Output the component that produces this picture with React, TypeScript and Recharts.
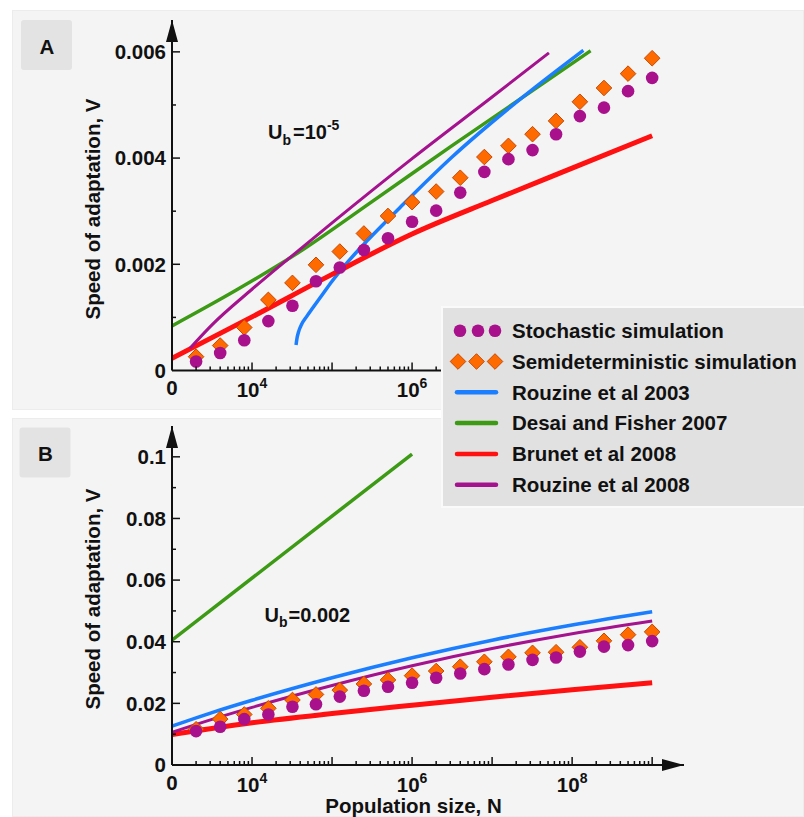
import React from 'react';
import { ComposedChart, Line, Scatter, XAxis, YAxis } from 'recharts';

const FONT = '"Liberation Sans", Arial, Helvetica, sans-serif';

// Population sizes at which both simulations were run
const simN = [2000, 4000, 8000, 16000, 32000, 63000, 125000, 250000, 500000, 1e6, 2e6, 4e6, 8e6, 1.6e7, 3.2e7, 6.3e7, 1.25e8, 2.5e8, 5e8, 1e9];

// Panel A, Ub = 1e-5
const stochA = [0.00017, 0.00033, 0.00057, 0.00093, 0.00122, 0.00168, 0.00194, 0.00227, 0.00249, 0.0028, 0.00301, 0.00335, 0.00374, 0.00398, 0.00415, 0.00445, 0.00479, 0.00495, 0.00526, 0.00551];
const semiA = [0.00026, 0.00047, 0.00081, 0.00133, 0.00165, 0.00199, 0.00224, 0.00258, 0.00291, 0.00317, 0.00337, 0.00363, 0.00402, 0.00423, 0.00445, 0.0047, 0.00506, 0.00532, 0.00559, 0.00588];
const rouzine03A_N = [35480, 36310, 38020, 41690, 47860, 57540, 75860, 100000, 158500, 281800, 707900, 3.16e6, 2.0e7, 1.38e8];
const rouzine03A_V = [0.00048, 0.00059, 0.00072, 0.00087, 0.00101, 0.00118, 0.00143, 0.00168, 0.00205, 0.00246, 0.00307, 0.00402, 0.00505, 0.00603];
const desaiA_N = [1000, 6300, 38000, 316000, 3.0e6, 1.7e8];
const desaiA_V = [0.00084, 0.00151, 0.00222, 0.00318, 0.00421, 0.00602];
const brunetA_N = [1000, 10000, 100000, 1e6, 1e7, 1e8, 1e9];
const brunetA_V = [0.00023, 0.00101, 0.00181, 0.00257, 0.0032, 0.00381, 0.00442];
const rouzine08A_N = [1680, 3160, 10000, 31600, 100000, 1e6, 1e7, 5.13e7];
const rouzine08A_V = [0.00042, 0.00086, 0.00153, 0.00216, 0.00278, 0.00399, 0.00515, 0.00598];

// Panel B, Ub = 0.002
const stochB = [0.011, 0.0124, 0.0149, 0.0164, 0.0189, 0.0197, 0.0222, 0.0241, 0.0254, 0.0267, 0.0283, 0.0297, 0.0311, 0.0326, 0.0341, 0.0349, 0.0368, 0.0384, 0.0389, 0.0402];
const semiB = [0.0116, 0.0149, 0.0164, 0.0184, 0.0211, 0.0229, 0.0243, 0.0263, 0.0276, 0.029, 0.0305, 0.0319, 0.0335, 0.0351, 0.0364, 0.0366, 0.0382, 0.0403, 0.0423, 0.0432];
const curveB_N = [1000, 3160, 10000, 100000, 1e6, 1e7, 1e8, 1e9];
const rouzine03B_V = [0.0126, 0.017, 0.021, 0.0283, 0.0348, 0.0405, 0.0454, 0.0497];
const rouzine08B_V = [0.0106, 0.0148, 0.0187, 0.0258, 0.0322, 0.0378, 0.0426, 0.0467];
const desaiB_N = [1000, 1e6];
const desaiB_V = [0.0405, 0.1009];
const brunetB_N = [1000, 10000, 1e5, 1e6, 1e7, 1e8, 1e9];
const brunetB_V = [0.0099, 0.0137, 0.0167, 0.0194, 0.022, 0.0244, 0.0267];

// Axis tick values
const xMajorExps = [3, 4, 5, 6, 7, 8, 9];
const xLabelsA = [4, 6];
const xLabelsB = [4, 6, 8];
const yTicksA = [0, 0.001, 0.002, 0.003, 0.004, 0.005, 0.006];
const yLabelsA = [0, 0.002, 0.004, 0.006];
const yTicksB = [0, 0.01, 0.02, 0.03, 0.04, 0.05, 0.06, 0.07, 0.08, 0.09, 0.1];
const yLabelsB = [0, 0.02, 0.04, 0.06, 0.08, 0.1];

const legendItems = [
  { name: 'Stochastic simulation', kind: 'dot' },
  { name: 'Semideterministic simulation', kind: 'diamond' },
  { name: 'Rouzine et al 2003', kind: 'blue' },
  { name: 'Desai and Fisher 2007', kind: 'green' },
  { name: 'Brunet et al 2008', kind: 'red' },
  { name: 'Rouzine et al 2008', kind: 'purple' },
];

const C = {
  dot: '#a8108c',
  diamond: '#ff6a00',
  diamondEdge: '#c84800',
  blue: '#1a7eff',
  green: '#3d9a14',
  red: '#ff1111',
  purple: '#a4128e',
};
const W = { blue: 3.5, green: 3.5, red: 5, purple: 3 };

const pts = (ns: number[], vs: number[]) => ns.map((n, i) => ({ n, v: vs[i] }));

// log-spaced tick positions: each decade plus 2..9 x 10^d
const xTicks: number[] = [];
for (let e = 3; e <= 9; e++) {
  xTicks.push(Math.pow(10, e));
  if (e < 9) for (let m = 2; m <= 9; m++) xTicks.push(m * Math.pow(10, e));
}

const FS = 20.5;

function makeXTick(labels: number[]) {
  return (props: any) => {
    const { x, y, payload } = props;
    const v = payload.value as number;
    const lg = Math.log10(v);
    const e = Math.round(lg);
    const major = Math.abs(lg - e) < 1e-9 && xMajorExps.includes(e);
    if (v === 1000) {
      return (
        <text x={x} y={y + 24.5} textAnchor="middle" fontFamily={FONT} fontWeight="bold" fontSize={FS} fill="#111">0</text>
      );
    }
    return (
      <g>
        <line x1={x} x2={x} y1={y} y2={y - (major ? 8 : 4)} stroke="#111" strokeWidth={1.5} />
        {major && labels.includes(e) && (
          <text x={x} y={y + 26.5} textAnchor="middle" fontFamily={FONT} fontWeight="bold" fontSize={FS} fill="#111">
            <tspan>10</tspan>
            <tspan fontSize={14} dy={-9}>{e}</tspan>
          </text>
        )}
      </g>
    );
  };
}

function makeYTick(labels: number[]) {
  return (props: any) => {
    const { x, y, payload } = props;
    const v = payload.value as number;
    const labeled = labels.includes(v);
    return (
      <g>
        {v !== 0 && <line x1={x} x2={x + (labeled ? 8 : 4)} y1={y} y2={y} stroke="#111" strokeWidth={1.5} />}
        {labeled && (
          <text x={x - 6} y={y} dy="0.36em" textAnchor="end" fontFamily={FONT} fontWeight="bold" fontSize={FS} fill="#111">
            {String(v)}
          </text>
        )}
      </g>
    );
  };
}

const DotShape = (p: any) => <circle cx={p.cx} cy={p.cy} r={6.3} fill={C.dot} />;
const DiamondShape = (p: any) => {
  const h = 7.8;
  return (
    <polygon
      points={`${p.cx},${p.cy - h} ${p.cx + h},${p.cy} ${p.cx},${p.cy + h} ${p.cx - h},${p.cy}`}
      fill={C.diamond}
      stroke={C.diamondEdge}
      strokeWidth={1}
    />
  );
};

const axisLineX = { stroke: '#111', strokeWidth: 2, markerEnd: 'url(#axisArrow)' };
const axisLineY = { stroke: '#111', strokeWidth: 2, markerStart: 'url(#axisArrow)' };

interface PanelProps {
  yMax: number;
  yTicks: number[];
  yLabels: number[];
  xLabels: number[];
  width: number;
  height: number;
  margin: { top: number; right: number; bottom: number; left: number };
  stoch: number[];
  semi: number[];
  blue: { n: number; v: number }[];
  green: { n: number; v: number }[];
  red: { n: number; v: number }[];
  purple: { n: number; v: number }[];
}

function Panel(p: PanelProps) {
  return (
    <ComposedChart width={p.width} height={p.height} margin={p.margin}>
      <XAxis
        dataKey="n"
        type="number"
        scale="log"
        domain={[1000, 2.5e9]}
        allowDataOverflow
        ticks={xTicks}
        interval={0}
        tick={makeXTick(p.xLabels)}
        tickLine={false}
        tickSize={0}
        tickMargin={0}
        height={30}
        axisLine={axisLineX}
      />
      <YAxis
        dataKey="v"
        type="number"
        domain={[0, p.yMax]}
        allowDataOverflow
        ticks={p.yTicks}
        interval={0}
        tick={makeYTick(p.yLabels)}
        tickLine={false}
        tickSize={0}
        tickMargin={0}
        width={172}
        axisLine={axisLineY}
      />
      <Line data={p.green} dataKey="v" type="monotone" stroke={C.green} strokeWidth={W.green} dot={false} activeDot={false} isAnimationActive={false} />
      <Line data={p.blue} dataKey="v" type="monotone" stroke={C.blue} strokeWidth={W.blue} dot={false} activeDot={false} isAnimationActive={false} />
      <Line data={p.red} dataKey="v" type="monotone" stroke={C.red} strokeWidth={W.red} dot={false} activeDot={false} isAnimationActive={false} />
      <Line data={p.purple} dataKey="v" type="monotone" stroke={C.purple} strokeWidth={W.purple} dot={false} activeDot={false} isAnimationActive={false} />
      <Scatter data={pts(simN, p.semi)} dataKey="v" shape={DiamondShape} isAnimationActive={false} />
      <Scatter data={pts(simN, p.stoch)} dataKey="v" shape={DotShape} isAnimationActive={false} />
    </ComposedChart>
  );
}

const textStyle = { fontFamily: FONT, fontWeight: 'bold' as const, fill: '#111' };

function LegendIcon({ kind, cy }: { kind: string; cy: number }) {
  if (kind === 'dot') {
    return (
      <g>
        {[19, 37, 54].map((cx) => (
          <circle key={cx} cx={cx} cy={cy} r={6.3} fill={C.dot} />
        ))}
      </g>
    );
  }
  if (kind === 'diamond') {
    return (
      <g>
        {[17, 35.5, 54].map((cx) => (
          <DiamondShape key={cx} cx={cx} cy={cy} />
        ))}
      </g>
    );
  }
  const color = (C as any)[kind];
  return <line x1={16} x2={55} y1={cy} y2={cy} stroke={color} strokeWidth={4.5} strokeLinecap="round" />;
}

export default function App() {
  return (
    <div style={{ position: 'absolute', left: 0, top: 0, width: 804, height: 817, background: '#ffffff', overflow: 'hidden' }}>
      <svg width={0} height={0} style={{ position: 'absolute' }}>
        <defs>
          <marker
            id="axisArrow"
            markerUnits="userSpaceOnUse"
            markerWidth={22}
            markerHeight={12}
            viewBox="0 0 22 12"
            refX={22}
            refY={6}
            orient="auto-start-reverse"
          >
            <path d="M0,0 L22,6 L0,12 Z" fill="#111" />
          </marker>
        </defs>
      </svg>

      <div style={{ position: 'absolute', left: 12, top: 10, width: 792, height: 400, background: '#f4f4f4', boxShadow: 'inset 0 0 0 1px #ececec' }} />
      <div style={{ position: 'absolute', left: 12, top: 418, width: 792, height: 399, background: '#f4f4f4', boxShadow: 'inset 0 0 0 1px #ececec' }} />

      <div style={{ position: 'absolute', left: 0, top: 0 }}>
        <Panel
          width={804}
          height={410}
          margin={{ top: 20, right: 120, bottom: 9.5, left: 0 }}
          yMax={0.0066}
          yTicks={yTicksA}
          yLabels={yLabelsA}
          xLabels={xLabelsA}
          stoch={stochA}
          semi={semiA}
          blue={pts(rouzine03A_N, rouzine03A_V)}
          green={pts(desaiA_N, desaiA_V)}
          red={pts(brunetA_N, brunetA_V)}
          purple={pts(rouzine08A_N, rouzine08A_V)}
        />
      </div>
      <div style={{ position: 'absolute', left: 0, top: 410 }}>
        <Panel
          width={804}
          height={407}
          margin={{ top: 16, right: 120, bottom: 22, left: 0 }}
          yMax={0.11}
          yTicks={yTicksB}
          yLabels={yLabelsB}
          xLabels={xLabelsB}
          stoch={stochB}
          semi={semiB}
          blue={pts(curveB_N, rouzine03B_V)}
          green={pts(desaiB_N, desaiB_V)}
          red={pts(brunetB_N, brunetB_V)}
          purple={pts(curveB_N, rouzine08B_V)}
        />
      </div>

      {/* panel tags, axis titles and parameter notes */}
      <svg width={804} height={817} style={{ position: 'absolute', left: 0, top: 0, pointerEvents: 'none' }}>
        <rect x={21} y={20} width={51} height={50} rx={3} fill="#e3e3e3" />
        <text x={47} y={53.5} textAnchor="middle" fontSize={FS} {...textStyle}>A</text>
        <rect x={19.5} y={427.5} width={51} height={50} rx={3} fill="#e3e3e3" />
        <text x={45.5} y={460.5} textAnchor="middle" fontSize={FS} {...textStyle}>B</text>

        <text x={100} y={209} textAnchor="middle" fontSize={FS} transform="rotate(-90 100 209)" {...textStyle}>
          Speed of adaptation, V
        </text>
        <text x={100} y={599} textAnchor="middle" fontSize={FS} transform="rotate(-90 100 599)" {...textStyle}>
          Speed of adaptation, V
        </text>
        <text x={413.5} y={812.5} textAnchor="middle" fontSize={FS} {...textStyle}>
          Population size, N
        </text>

        <text x={268} y={138.5} fontSize={20} {...textStyle}>
          <tspan>U</tspan>
          <tspan fontSize={14} dy={6}>b</tspan>
          <tspan dx={2} dy={-6}>=10</tspan>
          <tspan fontSize={14} dy={-9}>-5</tspan>
        </text>
        <text x={264.5} y={621.5} fontSize={20} {...textStyle}>
          <tspan>U</tspan>
          <tspan fontSize={14} dy={5}>b</tspan>
          <tspan dx={1} dy={-5}>=0.002</tspan>
        </text>
      </svg>

      {/* legend shared by both panels */}
      <svg width={363} height={202} style={{ position: 'absolute', left: 441, top: 306 }}>
        <rect x={1} y={1} width={370} height={200} fill="#e1e1e1" stroke="#fafafa" strokeWidth={2} />
        {legendItems.map((it, i) => {
          const cy = 24.7 + i * 30.8;
          return (
            <g key={it.name}>
              <LegendIcon kind={it.kind} cy={cy} />
              <text x={71} y={cy} dy="0.36em" fontSize={FS} {...textStyle}>
                {it.name}
              </text>
            </g>
          );
        })}
      </svg>
    </div>
  );
}
